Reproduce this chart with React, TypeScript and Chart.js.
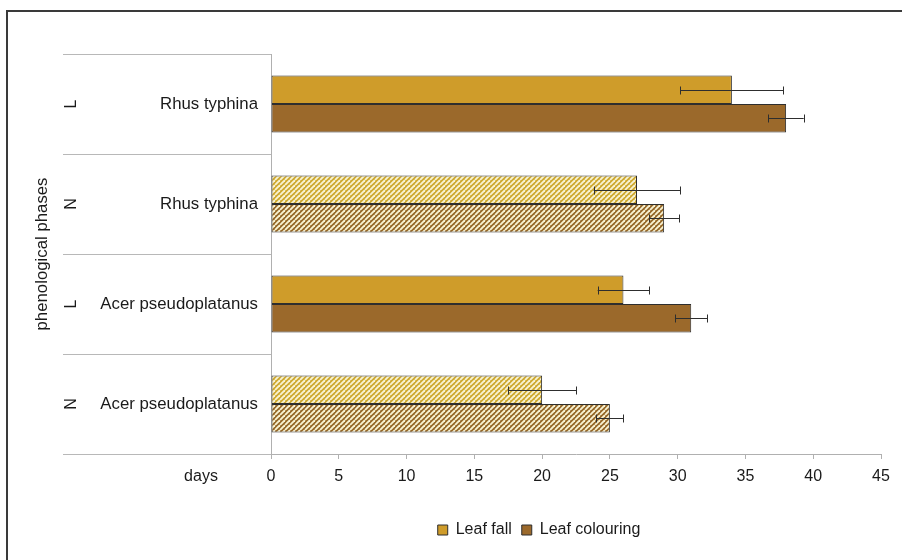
import React, { useEffect, useRef } from "react";
import { Chart, registerables } from "chart.js";

Chart.register(...registerables);

const phases = ["L", "N", "L", "N"];
const species = ["Rhus typhina", "Rhus typhina", "Acer pseudoplatanus", "Acer pseudoplatanus"];
const leafFall = [34, 27, 26, 20];
const leafFallErr = [3.8, 3.2, 1.9, 2.5];
const leafColouring = [38, 29, 31, 25];
const leafColouringErr = [1.3, 1.1, 1.2, 1.0];
const xTicks = [0, 5, 10, 15, 20, 25, 30, 35, 40, 45];
const yTitle = "phenological phases";
const xLabel = "days";

const FONT = "'Liberation Sans', Arial, sans-serif";
const FALL = "#CF9C2A";
const COLOUR = "#9B692B";
const FALL_HATCH = "#CEA82E";
const COLOUR_HATCH = "#956727";
const STRIPE = "#F8F2D2";

function makePattern(base: string, stripe: string) {
  const s = 5;
  const c = document.createElement("canvas");
  c.width = s;
  c.height = s;
  const g = c.getContext("2d")!;
  g.fillStyle = base;
  g.fillRect(0, 0, s, s);
  g.strokeStyle = stripe;
  g.lineWidth = 1.9;
  for (const o of [-s, 0, s]) {
    g.beginPath();
    g.moveTo(o, s);
    g.lineTo(o + s, 0);
    g.stroke();
  }
  return g.createPattern(c, "repeat")!;
}

export default function App() {
  const ref = useRef<HTMLCanvasElement>(null);

  useEffect(() => {
    const canvas = ref.current!;
    const fallPat = makePattern(FALL_HATCH, STRIPE);
    const colPat = makePattern(COLOUR_HATCH, STRIPE);
    const errs = [leafFallErr, leafColouringErr];

    const framePlugin = {
      id: "frame",
      beforeDraw(chart: any) {
        const c = chart.ctx;
        c.save();
        c.fillStyle = "#fff";
        c.fillRect(0, 0, chart.width, chart.height);
        c.strokeStyle = "#3a3a3a";
        c.lineWidth = 2;
        c.beginPath();
        c.moveTo(7, chart.height);
        c.lineTo(7, 11);
        c.lineTo(chart.width, 11);
        c.stroke();
        c.restore();
      },
    };

    const leftPlugin = {
      id: "leftLabels",
      afterDraw(chart: any) {
        const c = chart.ctx;
        const y = chart.scales.y;
        const x = chart.scales.x;
        const half = Math.abs(y.getPixelForValue(1) - y.getPixelForValue(0)) / 2;
        const left = 63;
        c.save();
        // separators
        c.strokeStyle = "#b8b8b8";
        c.lineWidth = 1;
        for (let i = 0; i < phases.length; i++) {
          const yc = y.getPixelForValue(i);
          const top = Math.round(yc - half) + 0.5;
          c.beginPath();
          c.moveTo(left, top);
          c.lineTo(x.left, top);
          c.stroke();
        }
        const bottom = Math.round(y.getPixelForValue(phases.length - 1) + half) + 0.5;
        c.beginPath();
        c.moveTo(left, bottom);
        c.lineTo(x.left, bottom);
        c.stroke();
        c.fillStyle = "#1a1a1a";
        c.textBaseline = "middle";
        // species labels
        c.font = `16.8px ${FONT}`;
        c.textAlign = "right";
        for (let i = 0; i < species.length; i++) {
          c.fillText(species[i], x.left - 13, y.getPixelForValue(i));
        }
        // phase labels
        c.font = `16px ${FONT}`;
        c.textAlign = "center";
        for (let i = 0; i < phases.length; i++) {
          const yc = y.getPixelForValue(i);
          c.save();
          c.translate(72, yc);
          c.rotate(-Math.PI / 2);
          c.fillText(phases[i], 0, 0);
          c.restore();
        }
        // axis title
        c.save();
        c.font = `16.8px ${FONT}`;
        c.translate(42, (y.top + y.bottom) / 2);
        c.rotate(-Math.PI / 2);
        c.fillText(yTitle, 0, 0);
        c.restore();
        // "days" label
        c.font = `16px ${FONT}`;
        c.fillText(xLabel, 201, 477);
        c.restore();
      },
    };

    const errPlugin = {
      id: "errorBars",
      afterDatasetsDraw(chart: any) {
        const c = chart.ctx;
        const x = chart.scales.x;
        c.save();
        c.strokeStyle = "#2e2e2e";
        c.lineWidth = 1;
        chart.data.datasets.forEach((ds: any, di: number) => {
          const meta = chart.getDatasetMeta(di);
          meta.data.forEach((bar: any, j: number) => {
            const v = ds.data[j];
            const e = errs[di][j];
            const x1 = x.getPixelForValue(v - e);
            const x2 = x.getPixelForValue(v + e);
            const yy = Math.round(bar.y) + 0.5;
            c.beginPath();
            c.moveTo(x1, yy);
            c.lineTo(x2, yy);
            c.moveTo(Math.round(x1) + 0.5, yy - 4);
            c.lineTo(Math.round(x1) + 0.5, yy + 4);
            c.moveTo(Math.round(x2) + 0.5, yy - 4);
            c.lineTo(Math.round(x2) + 0.5, yy + 4);
            c.stroke();
          });
        });
        c.restore();
      },
    };

    const chart = new Chart(canvas, {
      type: "bar",
      data: {
        labels: species,
        datasets: [
          {
            label: "Leaf fall",
            data: leafFall,
            backgroundColor: (ctx: any) =>
              ctx.type === "data" && phases[ctx.dataIndex] === "N" ? fallPat : FALL,
            borderColor: "#2e2e2e",
            borderWidth: 1,
            borderSkipped: false,
            categoryPercentage: 0.57,
            barPercentage: 1,
          },
          {
            label: "Leaf colouring",
            data: leafColouring,
            backgroundColor: (ctx: any) =>
              ctx.type === "data" && phases[ctx.dataIndex] === "N" ? colPat : COLOUR,
            borderColor: "#2e2e2e",
            borderWidth: 1,
            borderSkipped: false,
            categoryPercentage: 0.57,
            barPercentage: 1,
          },
        ],
      },
      options: {
        indexAxis: "y",
        responsive: false,
        animation: false,
        layout: { padding: { top: 54, right: 21, left: 197, bottom: 12 } },
        scales: {
          x: {
            min: 0,
            max: 45,
            afterBuildTicks(scale: any) {
              scale.ticks = xTicks.map((v) => ({ value: v }));
            },
            afterFit(scale: any) {
              scale.height = 58;
            },
            grid: {
              drawOnChartArea: false,
              tickLength: 5,
              color: "#b0b0b0",
            },
            border: { color: "#b0b0b0" },
            ticks: {
              padding: 8,
              color: "#1a1a1a",
              font: { family: FONT, size: 16 },
              maxRotation: 0,
            },
          },
          y: {
            afterFit(scale: any) {
              scale.width = 74;
            },
            grid: { display: false },
            border: { color: "#b0b0b0" },
            ticks: { display: false },
          },
        },
        plugins: {
          legend: {
            position: "bottom",
            labels: {
              boxWidth: 10,
              boxHeight: 10,
              padding: 10,
              color: "#1a1a1a",
              font: { family: FONT, size: 16 },
            },
          },
          tooltip: { enabled: false },
        },
      },
      plugins: [framePlugin, leftPlugin, errPlugin],
    } as any);

    return () => chart.destroy();
  }, []);

  return (
    <div style={{ position: "fixed", left: 0, top: 0, width: 902, height: 560, background: "#fff" }}>
      <canvas ref={ref} width={902} height={560} style={{ display: "block" }} />
    </div>
  );
}
